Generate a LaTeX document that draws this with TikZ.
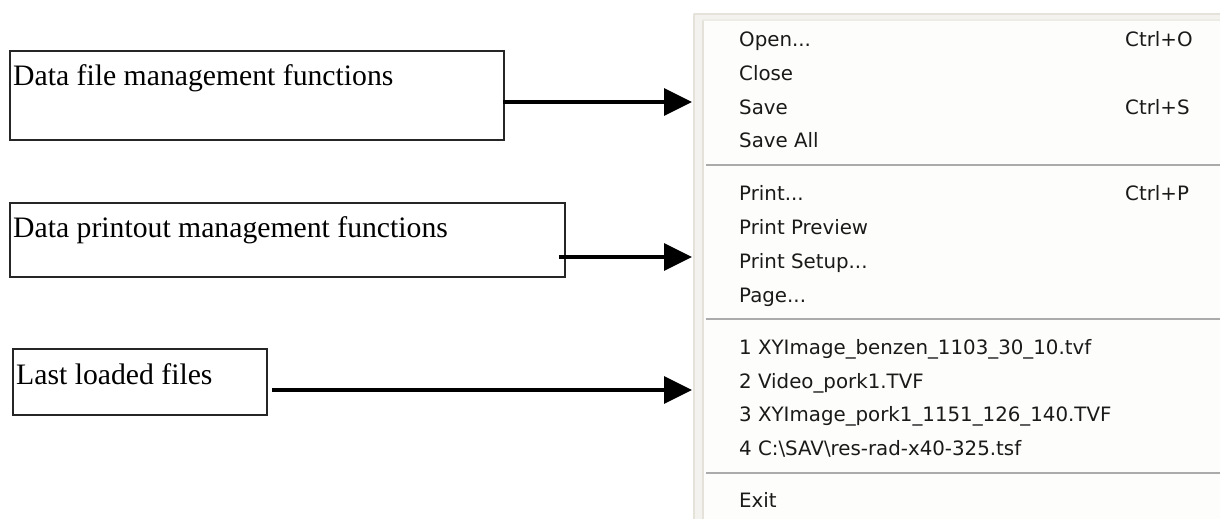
\documentclass[tikz,border=0pt]{standalone}
\usepackage{fontspec}
\setmainfont{Liberation Serif}
\newfontfamily\menufont{DejaVu Sans}
\usetikzlibrary{arrows.meta,calc}
\definecolor{menubg}{HTML}{FDFDFB}
\definecolor{menuframe}{HTML}{E4E2D9}
\definecolor{sepgray}{HTML}{ABABAB}
\definecolor{menutext}{HTML}{1A1A1A}
\tikzset{
  callbox/.style={draw=black!85, line width=1.8pt, rectangle, inner sep=0pt, anchor=north west},
  calltext/.style={anchor=base west, inner sep=0pt, font=\fontsize{29.7}{32}\selectfont},
  pointer/.style={line width=3.4pt, -{Triangle[length=28pt,width=27pt]}},
  menuitem/.style={anchor=base west, inner sep=0pt, text=menutext, font=\menufont\fontsize{19.8}{22}\selectfont},
  sepline/.style={draw=sepgray, line width=2.6pt},
}
\begin{document}
\begin{tikzpicture}[x=1pt,y=-1pt]
\useasboundingbox (0,0) rectangle (1220,519);
\fill[white] (0,0) rectangle (1220,519);
% menu frame
\fill[menuframe!45] (693,13) rectangle (1220,519);
\fill[menubg] (703,20) rectangle (1220,519);
\draw[menuframe, line width=1.5pt] (703,20) -- (703,519);
\draw[menuframe, line width=1.5pt] (694,14) -- (694,519);
\draw[menuframe, line width=1.2pt] (694,14) -- (1220,14);
\draw[menuframe!70, line width=1.2pt] (703,20) -- (1220,20);
% menu items
\node[menuitem] (m1) at (739,47) {Open...};
\node[menuitem] (k1) at (1125,47) {Ctrl+O};
\node[menuitem] (m2) at (739,80) {Close};
\node[menuitem] (m3) at (739,114) {Save};
\node[menuitem] (k3) at (1125,114) {Ctrl+S};
\node[menuitem] (m4) at (739,147) {Save All};
\coordinate (s1a) at (706,165); \coordinate (s1b) at (1220,165);
\draw[sepline] (s1a) -- (s1b);
\node[menuitem] (m5) at (739,200) {Print...};
\node[menuitem] (k5) at (1125,200) {Ctrl+P};
\node[menuitem] (m6) at (739,234) {Print Preview};
\node[menuitem] (m7) at (739,268) {Print Setup...};
\node[menuitem] (m8) at (739,302) {Page...};
\coordinate (s2a) at (706,319); \coordinate (s2b) at (1220,319);
\draw[sepline] (s2a) -- (s2b);
\node[menuitem] (m9) at (739,354) {1 XYImage\_benzen\_1103\_30\_10.tvf};
\node[menuitem] (m10) at (739,388) {2 Video\_pork1.TVF};
\node[menuitem] (m11) at (739,421) {3 XYImage\_pork1\_1151\_126\_140.TVF};
\node[menuitem] (m12) at (739,455) {4 C:\textbackslash SAV\textbackslash res-rad-x40-325.tsf};
\coordinate (s3a) at (706,473); \coordinate (s3b) at (1220,473);
\draw[sepline] (s3a) -- (s3b);
\node[menuitem] (m13) at (739,507) {Exit};
% callout boxes
\node[callbox, minimum width=494pt, minimum height=89pt] (b1) at (9,50) {};
\node[calltext] (t1) at (13,85) {Data file management functions};
\node[callbox, minimum width=555pt, minimum height=74pt] (b2) at (9,202) {};
\node[calltext] (t2) at (13,237) {Data printout management functions};
\node[callbox, minimum width=254pt, minimum height=66pt] (b3) at (12,348) {};
\node[calltext] (t3) at (16,384) {Last loaded files};
% arrows
\coordinate (e1) at (692,102);
\coordinate (e2) at (692,257);
\coordinate (e3) at (692,390);
\draw[pointer] ($(b1.east |- e1)+(-2,0)$) -- (e1);
\draw[pointer] ($(b2.east |- e2)+(-7,0)$) -- (e2);
\draw[pointer] ($(b3.east |- e3)+(4,0)$) -- (e3);
\end{tikzpicture}
\end{document}
